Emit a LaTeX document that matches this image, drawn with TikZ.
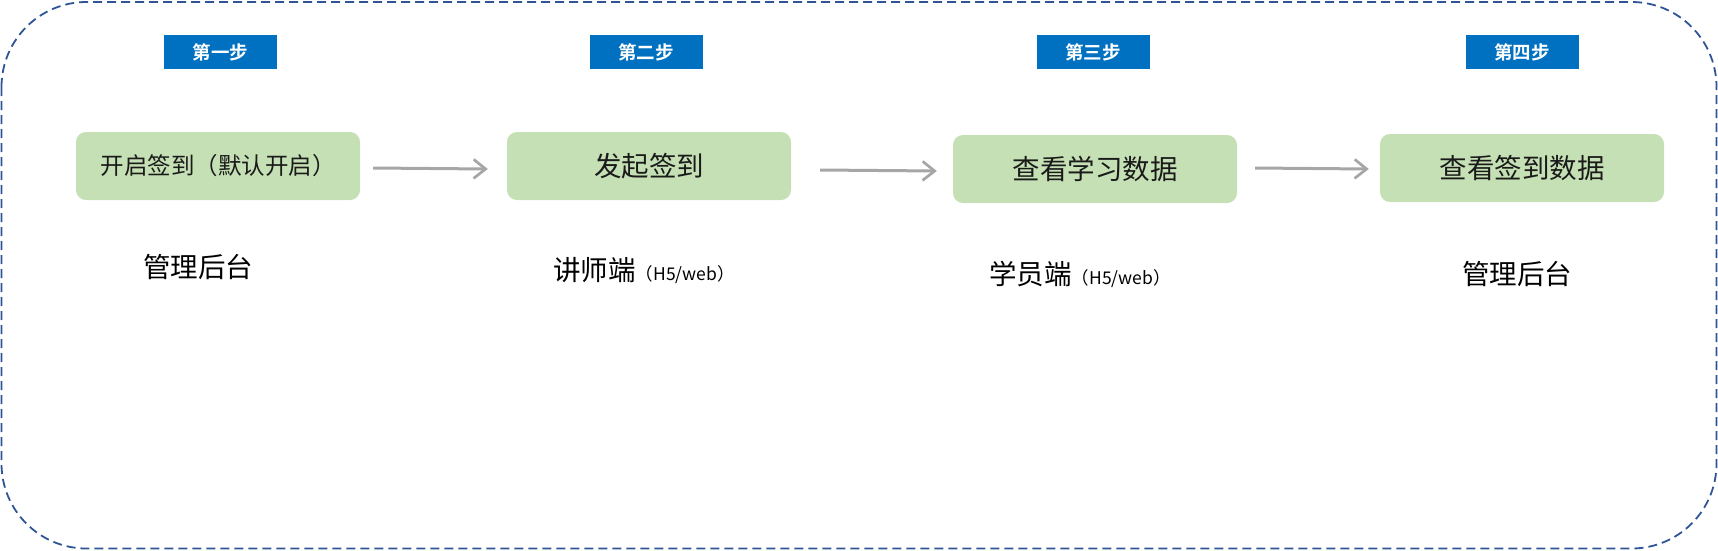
\documentclass[tikz,border=0pt]{standalone}
\usepackage{fontspec}
\setmainfont{Noto Sans CJK SC}
\newfontfamily\cjkbold{Noto Sans CJK SC Bold}
\usetikzlibrary{arrows.meta,calc}
\definecolor{stepblue}{HTML}{0070C0}
\definecolor{boxgreen}{HTML}{C5E0B4}
\definecolor{framecol}{HTML}{2F5597}
\definecolor{arrowgray}{HTML}{A6A6A6}
\definecolor{txt}{HTML}{1A1A1A}
\tikzset{
  steplabel/.style={fill=stepblue, text=white, minimum width=113pt, minimum height=34pt, inner sep=0pt,
    font=\cjkbold\fontsize{18.5}{20}\selectfont},
  greenbox/.style={fill=boxgreen, rounded corners=10pt, minimum width=284pt, minimum height=68pt, inner sep=0pt,
    text=txt, font=\fontsize{27.5}{32}\selectfont},
  sidelabel/.style={inner sep=0pt, text=black, font=\fontsize{27.5}{32}\selectfont},
  flowarrow/.style={draw=arrowgray, line width=3pt, -{Straight Barb[length=12pt,width=19pt,line width=2.7pt]}},
  outerframe/.style={draw=framecol, line width=1.8pt, dash pattern=on 9pt off 5pt, rounded corners=85pt}
}
\begin{document}
\begin{tikzpicture}[x=1pt,y=-1pt]
\useasboundingbox (0,0) rectangle (1718,550);
\draw[outerframe] (1.5,2) rectangle (1716.5,548.5);

\node[steplabel] (s1) at (220.5,52) {第一步};
\node[steplabel] (s2) at (646,52) {第二步};
\node[steplabel] (s3) at (1093,52) {第三步};
\node[steplabel] (s4) at (1522,52) {第四步};

\node[greenbox, font=\fontsize{23.5}{28}\selectfont] (b1) at (218,166) {开启签到（默认开启）};
\node[greenbox] (b2) at (649,166) {发起签到};
\node[greenbox] (b3) at (1095,169) {查看学习数据};
\node[greenbox] (b4) at (1522,168) {查看签到数据};

\node[sidelabel] (l1) at (198,267) {管理后台};
\node[sidelabel] (l2) at (644,270) {讲师端{\fontsize{17.5}{20}\selectfont（H5/web）}};
\node[sidelabel] (l3) at (1080,274) {学员端{\fontsize{17.5}{20}\selectfont（H5/web）}};
\node[sidelabel] (l4) at (1517,274) {管理后台};

\draw[flowarrow] ($(b1.east)+(13,2)$) -- ($(b2.west)+(-19,3)$);
\draw[flowarrow] ($(b2.east)+(29,4)$) -- ($(b3.west)+(-16,2)$);
\draw[flowarrow] ($(b3.east)+(18,-1)$) -- ($(b4.west)+(-11,1)$);
\end{tikzpicture}
\end{document}
